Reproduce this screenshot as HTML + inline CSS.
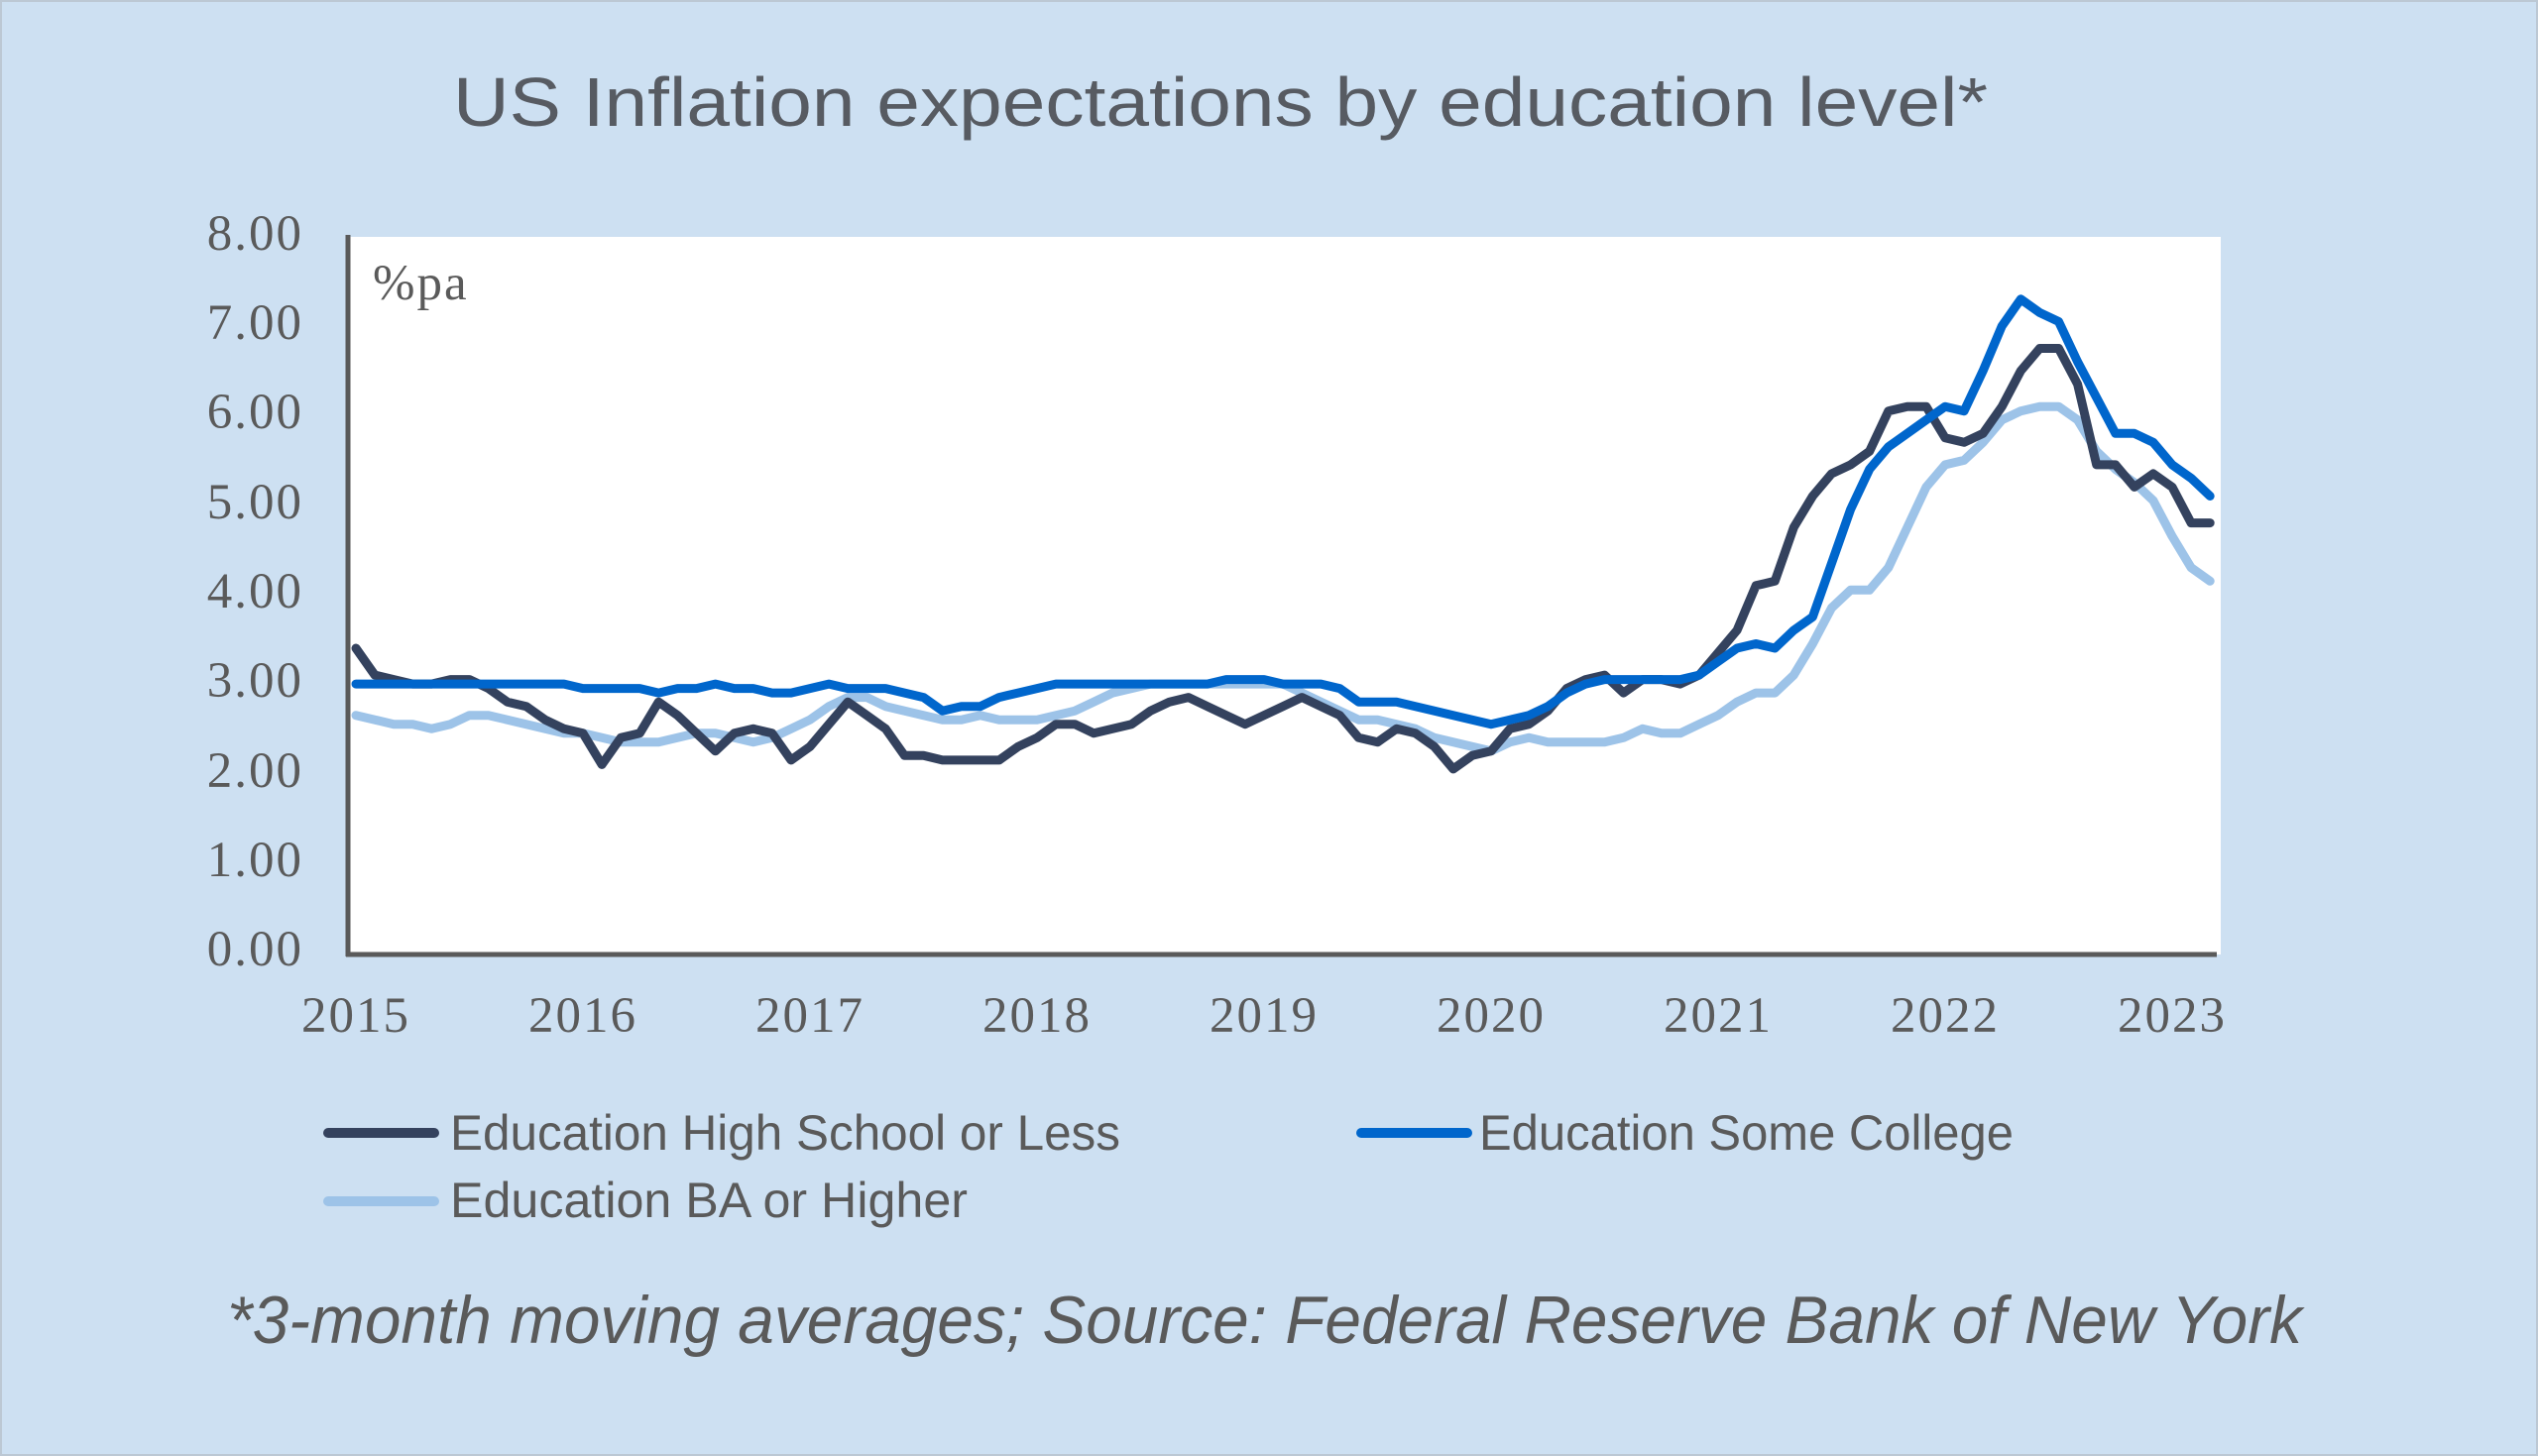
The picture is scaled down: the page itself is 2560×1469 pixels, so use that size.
<!DOCTYPE html>
<html><head><meta charset="utf-8"><style>
html,body{margin:0;padding:0;background:#cde0f2;}
svg{display:block;}
</style></head><body>
<svg id="s" width="2560" height="1469" viewBox="0 0 2560 1469" xmlns="http://www.w3.org/2000/svg">
<rect x="0" y="0" width="2560" height="1469" fill="#cde0f2"/>
<rect x="1" y="1" width="2558" height="1467" fill="none" stroke="#bcc8d4" stroke-width="2"/>
<text x="1231" y="127" text-anchor="middle" font-family="Liberation Sans, sans-serif" font-size="70" fill="#575b62" textLength="1548" lengthAdjust="spacingAndGlyphs">US Inflation expectations by education level*</text>
<rect x="353" y="239" width="1887" height="724" fill="#ffffff"/>
<g font-family="Liberation Serif, serif" font-size="51" fill="#5a5a5a" text-anchor="end" letter-spacing="2">
<text x="306" y="252">8.00</text>
<text x="306" y="342">7.00</text>
<text x="306" y="432">6.00</text>
<text x="306" y="523">5.00</text>
<text x="306" y="613">4.00</text>
<text x="306" y="703">3.00</text>
<text x="306" y="794">2.00</text>
<text x="306" y="884">1.00</text>
<text x="306" y="974">0.00</text>
</g>
<g font-family="Liberation Serif, serif" font-size="51" fill="#5a5a5a" text-anchor="middle" letter-spacing="2">
<text x="359" y="1041">2015</text><text x="588" y="1041">2016</text><text x="817" y="1041">2017</text>
<text x="1046" y="1041">2018</text><text x="1275" y="1041">2019</text><text x="1504" y="1041">2020</text>
<text x="1733" y="1041">2021</text><text x="1962" y="1041">2022</text><text x="2191" y="1041">2023</text>
</g>
<text x="376" y="302" font-family="Liberation Serif, serif" font-size="51" fill="#5a5a5a" letter-spacing="2">%pa</text>
<g id="lines" fill="none" stroke-width="9" stroke-linejoin="round" stroke-linecap="round"></g>
<line x1="351" y1="237" x2="351" y2="965" stroke="#5a5a5a" stroke-width="5"/>
<line x1="349" y1="963" x2="2236" y2="963" stroke="#5a5a5a" stroke-width="5"/>
<g stroke-width="10" stroke-linecap="round">
<line x1="331" y1="1143" x2="438" y2="1143" stroke="#34425e"/>
<line x1="1373" y1="1143" x2="1480" y2="1143" stroke="#0066cc"/>
<line x1="331" y1="1212" x2="438" y2="1212" stroke="#9dc3e8"/>
</g>
<g font-family="Liberation Sans, sans-serif" font-size="50" fill="#5a5a5a">
<text x="454" y="1160" textLength="676" lengthAdjust="spacingAndGlyphs">Education High School or Less</text>
<text x="1492" y="1160" textLength="539" lengthAdjust="spacingAndGlyphs">Education Some College</text>
<text x="454" y="1228" textLength="522" lengthAdjust="spacingAndGlyphs">Education BA or Higher</text>
</g>
<text x="229" y="1355" font-family="Liberation Sans, sans-serif" font-style="italic" font-size="68" fill="#5a5a5a" textLength="2093" lengthAdjust="spacingAndGlyphs">*3-month moving averages; Source: Federal Reserve Bank of New York</text>
</svg>
<script>
var hs=[3.4,3.1,3.05,3.0,3.0,3.05,3.05,2.95,2.8,2.75,2.6,2.5,
2.45,2.1,2.4,2.45,2.8,2.65,2.45,2.25,2.45,2.5,2.45,2.15,
2.3,2.55,2.8,2.65,2.5,2.2,2.2,2.15,2.15,2.15,2.15,2.3,
2.4,2.55,2.55,2.45,2.5,2.55,2.7,2.8,2.85,2.75,2.65,2.55,
2.65,2.75,2.85,2.75,2.65,2.4,2.35,2.5,2.45,2.3,2.05,2.2,
2.25,2.5,2.55,2.7,2.95,3.05,3.1,2.9,3.05,3.05,3.0,3.1,
3.35,3.6,4.1,4.15,4.75,5.1,5.35,5.45,5.6,6.05,6.1,6.1,
5.75,5.7,5.8,6.1,6.5,6.75,6.75,6.35,5.45,5.45,5.2,5.35,
5.2,4.8,4.8];
var sc=[3,3,3,3,3,3,3,3,3,3,3,3,
2.95,2.95,2.95,2.95,2.9,2.95,2.95,3.0,2.95,2.95,2.9,2.9,
2.95,3.0,2.95,2.95,2.95,2.9,2.85,2.7,2.75,2.75,2.85,2.9,
2.95,3.0,3.0,3.0,3.0,3.0,3.0,3.0,3.0,3.0,3.05,3.05,
3.05,3.0,3.0,3.0,2.95,2.8,2.8,2.8,2.75,2.7,2.65,2.6,
2.55,2.6,2.65,2.75,2.9,3.0,3.05,3.05,3.05,3.05,3.05,3.1,
3.25,3.4,3.45,3.4,3.6,3.75,4.35,4.95,5.4,5.65,5.8,5.95,
6.1,6.05,6.5,7.0,7.3,7.15,7.05,6.6,6.2,5.8,5.8,5.7,
5.45,5.3,5.1];
var ba=[2.65,2.6,2.55,2.55,2.5,2.55,2.65,2.65,2.6,2.55,2.5,2.45,
2.45,2.4,2.35,2.35,2.35,2.4,2.45,2.45,2.4,2.35,2.4,2.5,
2.6,2.75,2.85,2.85,2.75,2.7,2.65,2.6,2.6,2.65,2.6,2.6,
2.6,2.65,2.7,2.8,2.9,2.95,3.0,3.0,3.0,3.0,3.0,3.0,
3.0,3.0,2.9,2.8,2.7,2.6,2.6,2.55,2.5,2.4,2.35,2.3,
2.25,2.35,2.4,2.35,2.35,2.35,2.35,2.4,2.5,2.45,2.45,2.55,
2.65,2.8,2.9,2.9,3.1,3.45,3.85,4.05,4.05,4.3,4.75,5.2,
5.45,5.5,5.7,5.95,6.05,6.1,6.1,5.95,5.6,5.4,5.25,5.05,
4.65,4.3,4.15];
function pts(a){return a.map(function(v,i){return (359+i*229/12).toFixed(1)+","+(961-90.3*v).toFixed(1);}).join(" ");}
var g=document.getElementById("lines"),ns="http://www.w3.org/2000/svg";
[[ba,"#9dc3e8"],[hs,"#34425e"],[sc,"#0066cc"]].forEach(function(p){
var l=document.createElementNS(ns,"polyline");l.setAttribute("points",pts(p[0]));l.setAttribute("stroke",p[1]);g.appendChild(l);});
</script>
</body></html>
